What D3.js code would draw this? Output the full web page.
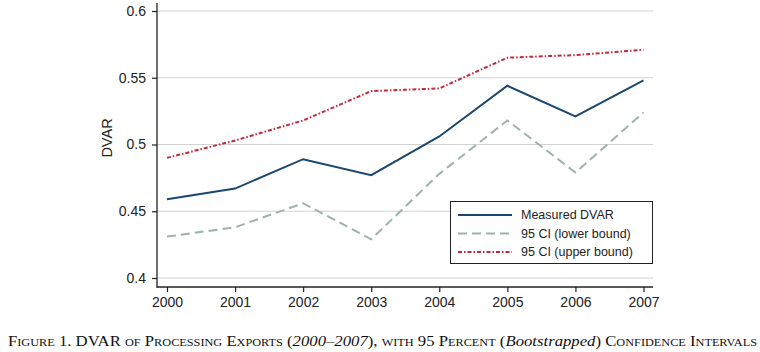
<!DOCTYPE html>
<html>
<head>
<meta charset="utf-8">
<script src="https://cdn.jsdelivr.net/npm/d3@7"></script>
<style>
  body { margin: 0; background: #fff; }
  svg { display: block; }
</style>
</head>
<body>
<svg id="chart" width="760" height="352"></svg>
<script>
// data
const years = [2000, 2001, 2002, 2003, 2004, 2005, 2006, 2007];
const measured = [0.459, 0.467, 0.489, 0.477, 0.506, 0.544, 0.521, 0.548];
const lowerBound = [0.431, 0.438, 0.456, 0.429, 0.478, 0.518, 0.479, 0.524];
const upperBound = [0.490, 0.503, 0.518, 0.540, 0.542, 0.565, 0.567, 0.571];
const yTicks = [0.4, 0.45, 0.5, 0.55, 0.6];
const yTickLabels = ['0.4', '0.45', '0.5', '0.55', '0.6'];

const series = [
    {name: 'Measured DVAR', values: measured, color: '#1a476f', dash: null},
    {name: '95 CI (lower bound)', values: lowerBound, color: '#9db3aa', dash: '9,5'},
    {name: '95 CI (upper bound)', values: upperBound, color: '#c4283e', dash: '4,2,1.5,2'}
];

const svg = d3.select('#chart');

const x = d3.scaleLinear().domain([2000, 2007]).range([167, 643.5]);
const y = d3.scaleLinear().domain([0.4, 0.6]).range([278, 11]);

const plotLeft = 157, plotRight = 653, plotBottom = 287, plotTop = 3;

// grid lines
svg.append('g')
    .selectAll('line')
    .data(yTicks)
    .enter().append('line')
    .attr('x1', plotLeft)
    .attr('x2', plotRight)
    .attr('y1', d => y(d))
    .attr('y2', d => y(d))
    .style('stroke', '#d2d2d2')
    .style('stroke-width', 1.2);

// y axis
const yAxis = d3.axisLeft(y)
    .tickValues(yTicks)
    .tickFormat((d, i) => yTickLabels[i])
    .tickSize(5)
    .tickPadding(6);
const gy = svg.append('g')
    .attr('transform', `translate(${plotLeft},0)`)
    .call(yAxis);
gy.select('.domain').remove();
gy.selectAll('.tick line').style('stroke', '#222').style('stroke-width', 1.2);
gy.selectAll('.tick text')
    .style('font-family', 'Liberation Sans, Arial, sans-serif')
    .style('font-size', '14px')
    .style('fill', '#222');
svg.append('line')
    .attr('x1', plotLeft).attr('x2', plotLeft)
    .attr('y1', plotTop).attr('y2', plotBottom + 0.6)
    .style('stroke', '#222').style('stroke-width', 1.3);

// x axis
const xAxis = d3.axisBottom(x)
    .tickValues(years)
    .tickFormat(d3.format('d'))
    .tickSize(5)
    .tickPadding(5);
const gx = svg.append('g')
    .attr('transform', `translate(0,${plotBottom})`)
    .call(xAxis);
gx.select('.domain').remove();
gx.selectAll('.tick line').style('stroke', '#222').style('stroke-width', 1.2);
gx.selectAll('.tick text')
    .style('font-family', 'Liberation Sans, Arial, sans-serif')
    .style('font-size', '14px')
    .style('fill', '#222');
svg.append('line')
    .attr('x1', plotLeft - 0.6).attr('x2', plotRight)
    .attr('y1', plotBottom).attr('y2', plotBottom)
    .style('stroke', '#222').style('stroke-width', 1.3);

// axis title
svg.append('text')
    .attr('transform', 'translate(112,138) rotate(-90)')
    .attr('text-anchor', 'middle')
    .style('font-family', 'Liberation Sans, Arial, sans-serif')
    .style('font-size', '14.5px')
    .style('fill', '#222')
    .text('DVAR');

// lines
const line = d3.line()
    .x((d, i) => x(years[i]))
    .y(d => y(d));

svg.append('g')
    .selectAll('path')
    .data(series.slice().reverse())
    .enter().append('path')
    .attr('d', d => line(d.values))
    .style('fill', 'none')
    .style('stroke', d => d.color)
    .style('stroke-width', 2)
    .style('stroke-dasharray', d => d.dash);

// legend
const legend = svg.append('g');
legend.append('rect')
    .attr('x', 450.5).attr('y', 201.5)
    .attr('width', 202).attr('height', 62)
    .style('fill', '#fff')
    .style('stroke', '#222')
    .style('stroke-width', 1);

const rows = legend.selectAll('g.row')
    .data(series)
    .enter().append('g')
    .attr('class', 'row')
    .attr('transform', (d, i) => `translate(0,${215 + i * 18.5})`);
rows.append('line')
    .attr('x1', 458).attr('x2', 512)
    .style('stroke', d => d.color)
    .style('stroke-width', 2)
    .style('stroke-dasharray', d => d.dash);
rows.append('text')
    .attr('x', 521)
    .attr('dy', '0.35em')
    .style('font-family', 'Liberation Sans, Arial, sans-serif')
    .style('font-size', '12.5px')
    .style('fill', '#222')
    .text(d => d.name);

// caption
const caption = svg.append('text')
    .attr('x', 8)
    .attr('y', 346)
    .attr('textLength', 749)
    .attr('lengthAdjust', 'spacingAndGlyphs')
    .style('font-family', 'Liberation Serif, Times New Roman, serif')
    .style('font-size', '15px')
    .style('font-variant', 'small-caps')
    .style('fill', '#111');
caption.append('tspan').text('Figure 1. DVAR of Processing Exports (');
caption.append('tspan').style('font-style', 'italic').style('font-variant', 'normal').text('2000–2007');
caption.append('tspan').text('), with 95 Percent (');
caption.append('tspan').style('font-style', 'italic').style('font-variant', 'normal').text('Bootstrapped');
caption.append('tspan').text(') Confidence Intervals');
</script>
</body>
</html>
